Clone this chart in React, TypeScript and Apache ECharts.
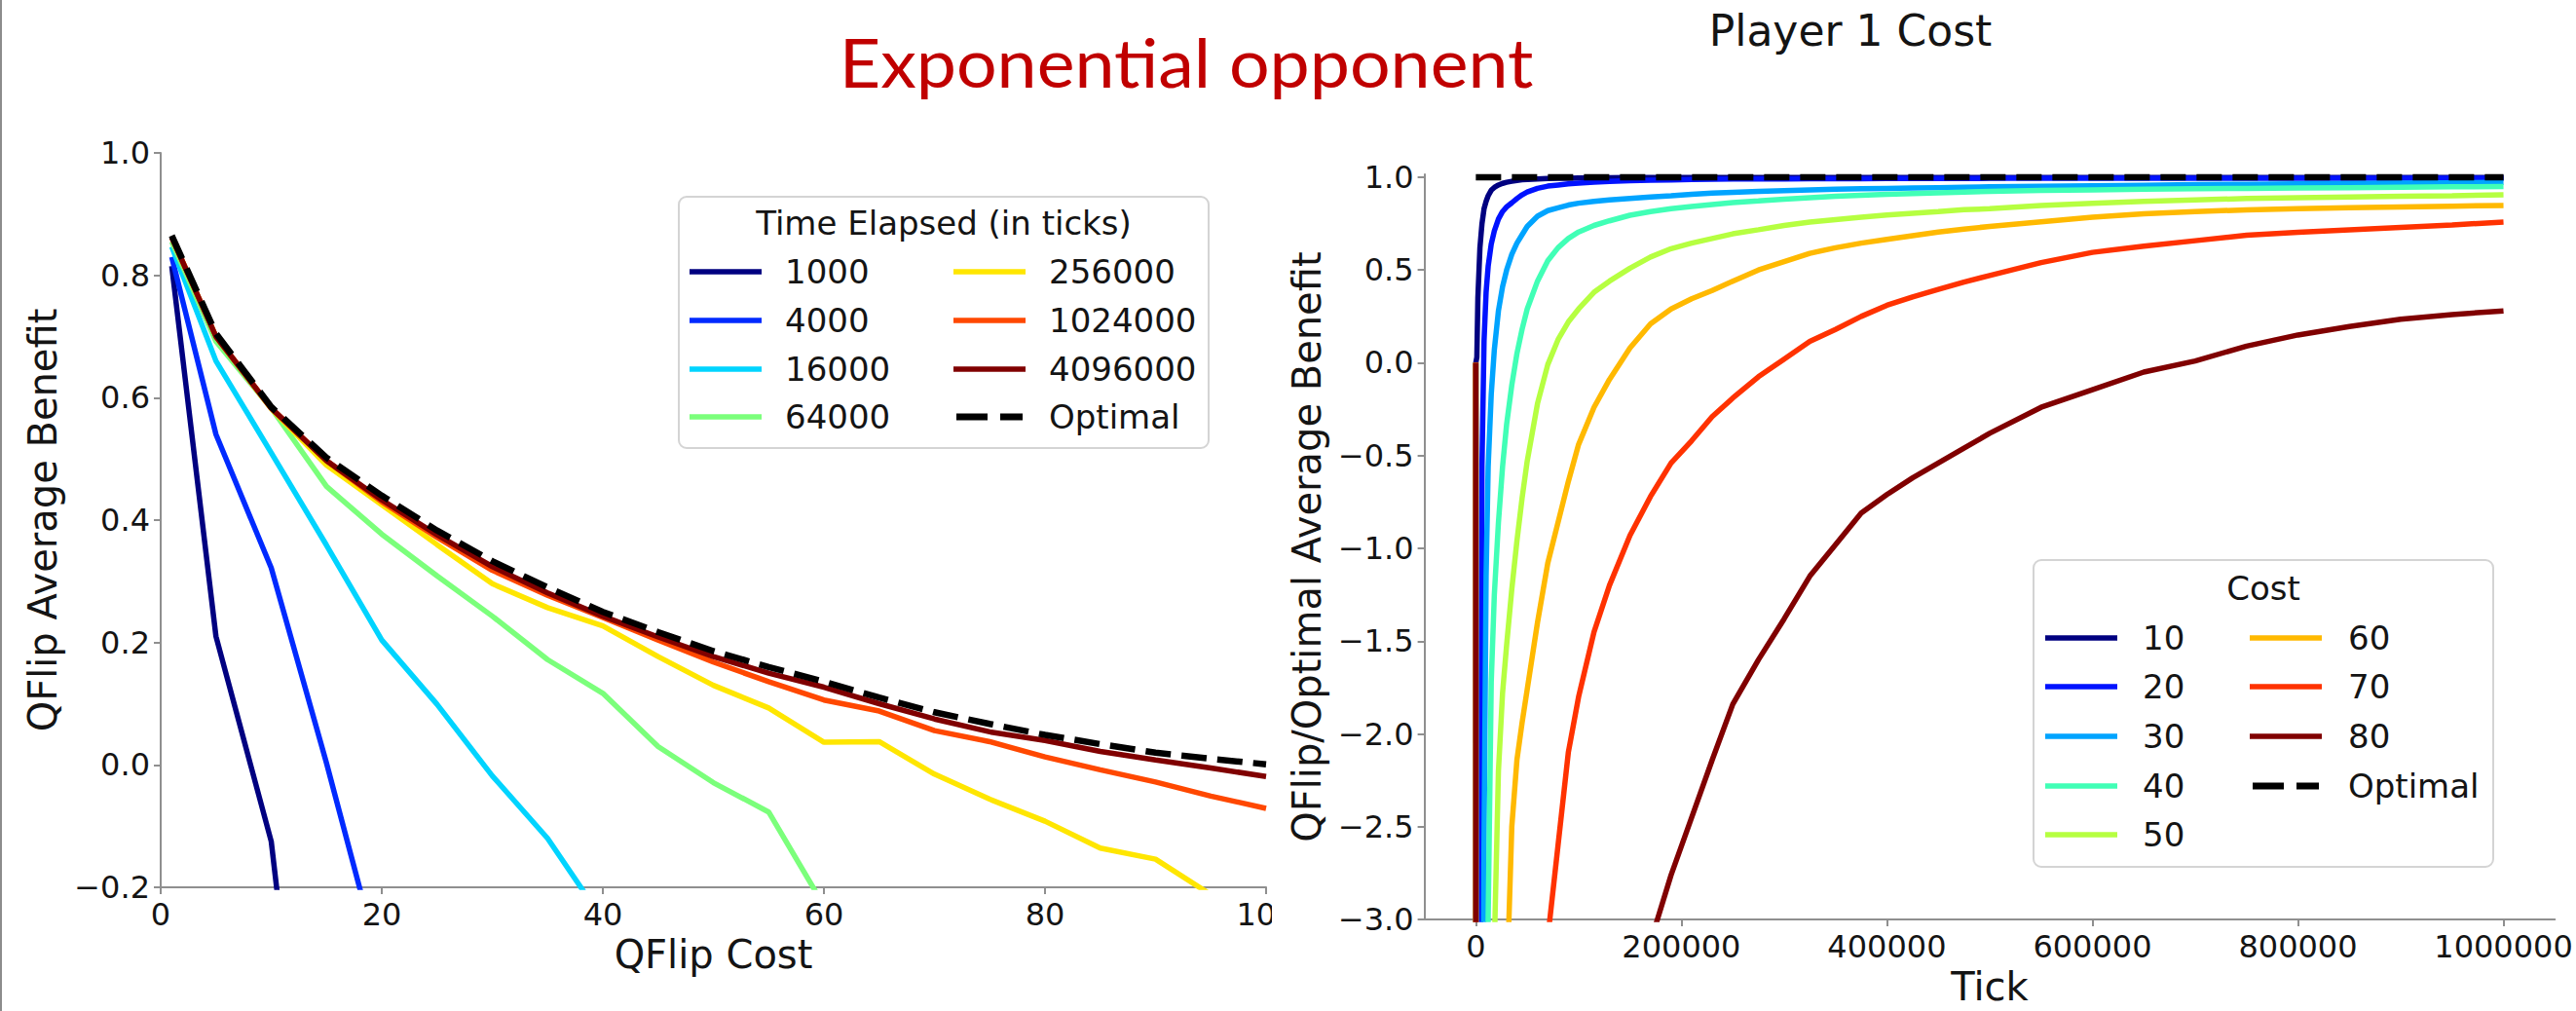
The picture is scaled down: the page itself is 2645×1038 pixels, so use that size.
import React, { useEffect, useRef } from 'react';
import * as echarts from 'echarts';

const W = 2645;
const H = 1038;

// ---------- Left chart data (x = QFlip cost) ----------
const leftCosts = [1, 5, 10, 15, 20, 25, 30, 35, 40, 45, 50, 55, 60, 65, 70, 75, 80, 85, 90, 95, 100];
const leftNames = ['1000', '4000', '16000', '64000', '256000', '1024000', '4096000', 'Optimal'];
const leftColors = ['#000080', '#002aff', '#00d4ff', '#7bff7b', '#ffe600', '#ff4800', '#800000', '#000000'];
const t1000 = [0.815, 0.21, -0.125, -0.9];
const t4000 = [0.83, 0.54, 0.322, 0.003, -0.337];
const t16000 = [0.847, 0.66, 0.51, 0.359, 0.204, 0.099, -0.018, -0.12, -0.253];
const t64000 = [0.855, 0.692, 0.583, 0.455, 0.377, 0.309, 0.243, 0.172, 0.117, 0.03, -0.029, -0.077, -0.23];
const t256000 = [0.862, 0.7, 0.582, 0.49, 0.425, 0.36, 0.296, 0.257, 0.227, 0.177, 0.13, 0.093, 0.037, 0.038, -0.015, -0.056, -0.092, -0.136, -0.154, -0.212, -0.26];
const t1024000 = [0.862, 0.7, 0.583, 0.497, 0.43, 0.372, 0.318, 0.277, 0.241, 0.204, 0.168, 0.136, 0.106, 0.088, 0.056, 0.038, 0.013, -0.008, -0.028, -0.051, -0.071];
const t4096000 = [0.862, 0.7, 0.583, 0.497, 0.433, 0.376, 0.324, 0.281, 0.243, 0.209, 0.177, 0.15, 0.127, 0.1, 0.075, 0.054, 0.04, 0.022, 0.008, -0.005, -0.019];
const tOptimal = [0.865, 0.705, 0.585, 0.502, 0.44, 0.383, 0.333, 0.29, 0.25, 0.217, 0.186, 0.16, 0.136, 0.11, 0.086, 0.067, 0.049, 0.034, 0.02, 0.01, 0.001];
const leftValues = [t1000, t4000, t16000, t64000, t256000, t1024000, t4096000, tOptimal];
const leftXTicks = [0, 20, 40, 60, 80, 100];

// ---------- Right chart data (x = tick) ----------
const ticks = [0, 1000, 2000, 4000, 6000, 8000, 10000, 12000, 15000, 18000, 22000, 26000, 30000, 35000, 40000, 45000, 50000, 60000, 70000, 80000, 90000, 100000, 115000, 130000, 150000, 170000, 190000, 210000, 230000, 250000, 275000, 300000, 325000, 350000, 375000, 400000, 425000, 450000, 475000, 500000, 550000, 600000, 650000, 700000, 750000, 800000, 850000, 900000, 950000, 1000000];
const c10 = [0, 0.03, 0.35, 0.62, 0.75, 0.83, 0.87, 0.9, 0.93, 0.945, 0.958, 0.967, 0.973, 0.978, 0.983, 0.986, 0.988, 0.991, 0.993, 0.994, 0.995, 0.996, 0.997, 0.997, 0.998, 0.998, 0.998, 0.998, 0.999, 0.999, 0.999, 0.999, 0.999, 0.999, 0.999, 0.999, 0.999, 0.999, 0.999, 0.999, 0.999, 0.999, 0.999, 0.999, 0.999, 0.999, 0.999, 0.999, 0.999, 0.999];
const c20 = [0, -18, -10, -4, -0.55, 0.12, 0.38, 0.52, 0.64, 0.71, 0.775, 0.815, 0.84, 0.862, 0.885, 0.905, 0.92, 0.94, 0.952, 0.958, 0.964, 0.968, 0.973, 0.977, 0.981, 0.984, 0.986, 0.988, 0.989, 0.99, 0.991, 0.991, 0.992, 0.992, 0.992, 0.993, 0.993, 0.993, 0.993, 0.994, 0.994, 0.994, 0.994, 0.995, 0.995, 0.995, 0.995, 0.995, 0.995, 0.995];
const c30 = [0, -25, -17, -9, -5, -2.6, -1.15, -0.56, -0.17, 0.07, 0.28, 0.41, 0.5, 0.585, 0.645, 0.69, 0.735, 0.79, 0.82, 0.835, 0.85, 0.86, 0.87, 0.878, 0.886, 0.893, 0.9, 0.908, 0.914, 0.919, 0.924, 0.928, 0.932, 0.935, 0.938, 0.94, 0.942, 0.944, 0.946, 0.948, 0.951, 0.954, 0.957, 0.96, 0.962, 0.964, 0.966, 0.968, 0.97, 0.972];
const c40 = [0, -35, -25, -14, -9, -6, -4.3, -3.0, -1.72, -1.25, -0.86, -0.56, -0.33, -0.12, 0.05, 0.18, 0.29, 0.44, 0.55, 0.62, 0.67, 0.705, 0.74, 0.765, 0.795, 0.815, 0.83, 0.842, 0.853, 0.863, 0.872, 0.882, 0.89, 0.897, 0.903, 0.908, 0.912, 0.916, 0.92, 0.924, 0.929, 0.932, 0.935, 0.938, 0.94, 0.942, 0.944, 0.946, 0.948, 0.95];
const c50 = [0, -40, -30, -20, -14, -10.5, -8, -6.3, -4.5, -3.15, -2.2, -1.78, -1.52, -1.22, -0.96, -0.73, -0.53, -0.22, -0.01, 0.125, 0.22, 0.29, 0.38, 0.44, 0.51, 0.57, 0.615, 0.645, 0.67, 0.695, 0.717, 0.74, 0.758, 0.772, 0.785, 0.797, 0.806, 0.815, 0.825, 0.83, 0.848, 0.86, 0.87, 0.878, 0.885, 0.89, 0.894, 0.897, 0.9, 0.905];
const c60 = [0, -50, -40, -30, -24, -20, -17, -14, -11, -8.5, -6.3, -4.6, -3.4, -2.5, -2.14, -1.94, -1.76, -1.4, -1.08, -0.86, -0.64, -0.44, -0.24, -0.09, 0.08, 0.21, 0.29, 0.345, 0.39, 0.44, 0.5, 0.545, 0.59, 0.62, 0.645, 0.665, 0.685, 0.705, 0.72, 0.735, 0.76, 0.785, 0.803, 0.815, 0.824, 0.831, 0.836, 0.84, 0.844, 0.848];
const c70 = [0, -60, -55, -45, -40, -36, -33, -30, -27, -24, -21, -18, -15, -12.5, -10.5, -9, -7.5, -5, -3.1, -2.6, -2.1, -1.8, -1.45, -1.2, -0.93, -0.72, -0.54, -0.42, -0.29, -0.19, -0.075, 0.02, 0.115, 0.18, 0.25, 0.31, 0.355, 0.395, 0.435, 0.47, 0.54, 0.595, 0.628, 0.658, 0.687, 0.703, 0.717, 0.73, 0.743, 0.758];
const c80 = [0, -60, -50, -40, -35, -30, -28, -26, -24, -22, -20, -18, -16.5, -15, -13.5, -12.5, -11.5, -10, -8.8, -7.8, -7, -6.3, -5.4, -4.7, -3.9, -3.12, -2.76, -2.45, -2.14, -1.84, -1.6, -1.38, -1.15, -0.98, -0.81, -0.71, -0.62, -0.54, -0.46, -0.38, -0.24, -0.145, -0.05, 0.01, 0.09, 0.15, 0.195, 0.235, 0.26, 0.28];
const optTicks = [0, 1000000];
const optVals = [1.0, 1.0];
const rightNames = ['10', '20', '30', '40', '50', '60', '70', '80', 'Optimal'];
const rightColors = ['#000080', '#0012ff', '#00a4ff', '#41ffb6', '#b6ff41', '#ffb900', '#ff3200', '#800000', '#000000'];
const rightValues = [c10, c20, c30, c40, c50, c60, c70, c80];
const rightXTicks = [0, 200000, 400000, 600000, 800000, 1000000];
const rightYTicks = [-3, -2.5, -2, -1.5, -1, -0.5, 0, 0.5, 1];

// ---------- layout / style ----------
const FONT = 'DejaVu Sans';
const AXIS_GRAY = '#8f8f8f';
const TEXT = '#141414';
const LW = 5.5;

const fmt1 = (v: number) => {
  const x = Math.abs(v) < 1e-9 ? 0 : v;
  return x.toFixed(1).replace('-', '\u2212');
};

const axisCommon = {
  axisLine: { show: true, onZero: false, lineStyle: { color: AXIS_GRAY, width: 2 } },
  axisTick: { show: true, inside: false, length: 7, lineStyle: { color: AXIS_GRAY, width: 2 } },
  splitLine: { show: false },
  nameTextStyle: { fontSize: 40, fontFamily: FONT, color: TEXT },
};
const labelCommon = { color: TEXT, fontSize: 32, fontFamily: FONT, margin: 12 };

function buildOption() {
  const series: any[] = [];
  leftValues.forEach((vals, i) => {
    const isOpt = leftNames[i] === 'Optimal';
    series.push({
      type: 'line',
      name: 'L ' + leftNames[i],
      xAxisIndex: 0,
      yAxisIndex: 0,
      showSymbol: false,
      symbol: 'none',
      silent: true,
      data: vals.map((v, k) => [leftCosts[k], v]),
      lineStyle: { color: leftColors[i], width: isOpt ? 6.5 : LW, type: isOpt ? [26, 11] : 'solid', cap: 'butt' },
      itemStyle: { color: leftColors[i] },
    });
  });
  rightValues.forEach((vals, i) => {
    series.push({
      type: 'line',
      name: 'R ' + rightNames[i],
      xAxisIndex: 1,
      yAxisIndex: 1,
      showSymbol: false,
      symbol: 'none',
      silent: true,
      data: vals.map((v, k) => [ticks[k], v]),
      lineStyle: { color: rightColors[i], width: LW },
      itemStyle: { color: rightColors[i] },
    });
  });
  series.push({
    type: 'line',
    name: 'R Optimal',
    xAxisIndex: 1,
    yAxisIndex: 1,
    showSymbol: false,
    symbol: 'none',
    silent: true,
    data: optVals.map((v, k) => [optTicks[k], v]),
    lineStyle: { color: '#000000', width: 6.5, type: [26, 11] },
    itemStyle: { color: '#000000' },
  });

  const graphic: any[] = [];
  // slide left border
  graphic.push({ type: 'rect', shape: { x: 0, y: 0, width: 2, height: H }, style: { fill: '#8c8c8c' }, z: 50 });
  // hide right part of left "100" label (overlapped by right figure)
  graphic.push({ type: 'rect', shape: { x: 1306, y: 918, width: 40, height: 60 }, style: { fill: '#ffffff' }, z: 50 });
  // titles
  graphic.push({
    type: 'text', x: 1218, y: 63, z: 60, scaleX: 1.05,
    style: { text: 'Exponential opponent', fontFamily: 'Lato', fontSize: 70, fill: '#c00000', align: 'center', verticalAlign: 'middle', textAlign: 'center', textVerticalAlign: 'middle' },
  });
  graphic.push({
    type: 'text', x: 1900, y: 31, z: 60,
    style: { text: 'Player 1 Cost', fontFamily: FONT, fontSize: 44, fill: TEXT, align: 'center', verticalAlign: 'middle', textAlign: 'center', textVerticalAlign: 'middle' },
  });

  // legend builder
  const legend = (box: number[], title: string, titleY: number, names: string[], colors: string[], rows: number[], colLineX: number[], colTextX: number[], perCol: number) => {
    graphic.push({
      type: 'rect', z: 40,
      shape: { x: box[0], y: box[1], width: box[2], height: box[3], r: 8 },
      style: { fill: 'rgba(255,255,255,0.85)', stroke: '#d4d4d4', lineWidth: 2 },
    });
    graphic.push({
      type: 'text', x: box[0] + box[2] / 2, y: titleY, z: 41,
      style: { text: title, fontFamily: FONT, fontSize: 34, fill: TEXT, align: 'center', verticalAlign: 'middle', textAlign: 'center', textVerticalAlign: 'middle' },
    });
    names.forEach((n, i) => {
      const col = Math.floor(i / perCol);
      const row = i % perCol;
      const y = rows[row];
      const isOpt = n === 'Optimal';
      const x1 = colLineX[col] + (isOpt ? 3 : 0);
      const x2 = isOpt ? x1 + 68 : colLineX[col] + 74;
      graphic.push({
        type: 'line', z: 41,
        shape: { x1, y1: y, x2, y2: y },
        style: { stroke: colors[i], lineWidth: isOpt ? 7 : 5.5, lineDash: isOpt ? [32, 13] : null },
      });
      graphic.push({
        type: 'text', x: colTextX[col], y, z: 41,
        style: { text: n, fontFamily: FONT, fontSize: 34, fill: TEXT, align: 'left', verticalAlign: 'middle', textAlign: 'left', textVerticalAlign: 'middle' },
      });
    });
  };
  legend([697, 202, 544, 258], 'Time Elapsed (in ticks)', 229, leftNames, leftColors, [279, 329, 379, 428], [708, 979], [806, 1077], 4);
  legend([2088, 575, 472, 315], 'Cost', 604, rightNames, rightColors, [655, 705, 756, 807, 857], [2100, 2310], [2200, 2411], 5);

  return {
    animation: false,
    backgroundColor: '#ffffff',
    grid: [
      { left: 165, top: 157, width: 1135, height: 754 },
      { left: 1462.6, top: 179.1, width: 1160.7, height: 770.9 },
    ],
    xAxis: [
      {
        ...axisCommon, gridIndex: 0, type: 'value', min: 0, max: 100, interval: 20,
        name: 'QFlip Cost', nameLocation: 'middle', nameGap: 46,
        axisLabel: { ...labelCommon, customValues: leftXTicks, formatter: (v: number) => String(Math.round(v)) },
        axisTick: { ...axisCommon.axisTick, customValues: leftXTicks },
      },
      {
        ...axisCommon, gridIndex: 1, type: 'value', min: -50000, max: 1050000,
        name: 'Tick', nameLocation: 'middle', nameGap: 46,
        axisLabel: { ...labelCommon, customValues: rightXTicks, formatter: (v: number) => String(Math.round(v)) },
        axisTick: { ...axisCommon.axisTick, customValues: rightXTicks },
      },
    ],
    yAxis: [
      {
        ...axisCommon, gridIndex: 0, type: 'value', min: -0.2, max: 1.0, interval: 0.2,
        name: 'QFlip Average Benefit', nameLocation: 'middle', nameGap: 101, nameRotate: 90,
        axisLabel: { ...labelCommon, margin: 11, formatter: fmt1 },
      },
      {
        ...axisCommon, gridIndex: 1, type: 'value', min: -3, max: 1.015,
        name: 'QFlip/Optimal Average Benefit', nameLocation: 'middle', nameGap: 101, nameRotate: 90,
        axisLabel: { ...labelCommon, margin: 11, customValues: rightYTicks, formatter: fmt1 },
        axisTick: { ...axisCommon.axisTick, customValues: rightYTicks },
      },
    ],
    series,
    graphic,
  };
}

export default function App() {
  const ref = useRef<HTMLDivElement>(null);
  useEffect(() => {
    if (!ref.current) return;
    const chart = echarts.init(ref.current, null, { renderer: 'svg', width: W, height: H });
    chart.setOption(buildOption() as any);
    return () => chart.dispose();
  }, []);
  return (
    <div
      ref={ref}
      style={{ position: 'absolute', left: 0, top: 0, width: W, height: H, background: '#ffffff' }}
    />
  );
}
